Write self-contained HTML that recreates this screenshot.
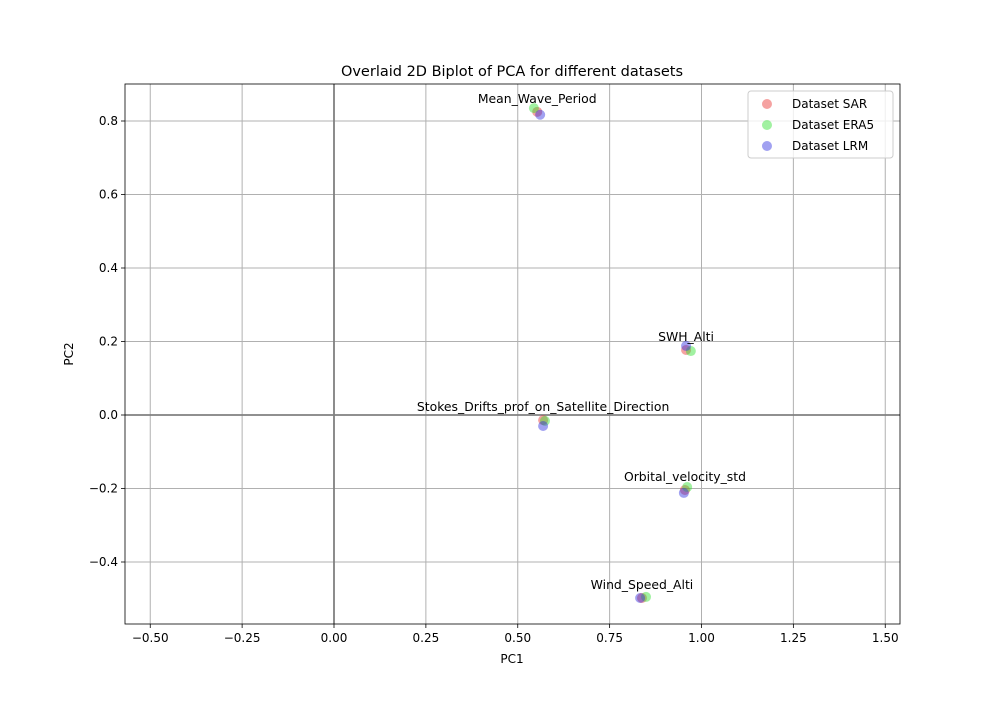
<!DOCTYPE html>
<html><head><meta charset="utf-8"><style>
body{margin:0;background:#fff;}
text{font-family:"DejaVu Sans","Liberation Sans",sans-serif;}
</style></head><body>
<svg id="chart" width="1000" height="700" xmlns="http://www.w3.org/2000/svg">
<rect width="1000" height="700" fill="#fff"/>
<g id="grid"></g><g id="marks"></g><g id="axes"></g>
</svg>
<script>
const features = ["Mean_Wave_Period","SWH_Alti","Stokes_Drifts_prof_on_Satellite_Direction","Orbital_velocity_std","Wind_Speed_Alti"];
const sarX = [0.553,0.958,0.569,0.955,0.838];
const sarY = [0.825,0.177,-0.014,-0.204,-0.498];
const era5X = [0.544,0.971,0.574,0.961,0.849];
const era5Y = [0.835,0.174,-0.016,-0.196,-0.495];
const lrmX = [0.561,0.958,0.569,0.952,0.833];
const lrmY = [0.817,0.188,-0.030,-0.212,-0.498];
const xTicks = [-0.5,-0.25,0,0.25,0.5,0.75,1.0,1.25,1.5];
const xTickLabels = ["−0.50","−0.25","0.00","0.25","0.50","0.75","1.00","1.25","1.50"];
const yTicks = [-0.4,-0.2,0,0.2,0.4,0.6,0.8];
const yTickLabels = ["−0.4","−0.2","0.0","0.2","0.4","0.6","0.8"];

const L=125,R=900,T=84,B=624;
const sx=v=>334+v*367.5, sy=v=>415-v*367.5;
const NS="http://www.w3.org/2000/svg";
function mk(tag,attrs,parent,txt){const e=document.createElementNS(NS,tag);for(const k in attrs)e.setAttribute(k,attrs[k]);if(txt!==undefined)e.textContent=txt;parent.appendChild(e);return e;}
const grid=document.getElementById('grid'),marks=document.getElementById('marks'),axes=document.getElementById('axes');
xTicks.forEach((t,i)=>{
  const g=mk('line',{x1:sx(t),x2:sx(t),y1:T,y2:B,stroke:'#b0b0b0','stroke-width':1},grid);
  
  
  mk('line',{x1:sx(t),x2:sx(t),y1:B,y2:B+4,stroke:'#000','stroke-width':0.8},axes);
  const tl=mk('text',{x:sx(t),y:B+18,'font-size':12,'text-anchor':'middle'},axes,xTickLabels[i]);
  
  
});
yTicks.forEach((t,i)=>{
  const g=mk('line',{x1:L,x2:R,y1:sy(t),y2:sy(t),stroke:'#b0b0b0','stroke-width':1},grid);
  
  
  mk('line',{x1:L-4,x2:L,y1:sy(t),y2:sy(t),stroke:'#000','stroke-width':0.8},axes);
  const tl=mk('text',{x:L-7,y:sy(t)+4,'font-size':12,'text-anchor':'end'},axes,yTickLabels[i]);
  
  
});
const zx=mk('line',{x1:sx(0),x2:sx(0),y1:T,y2:B,stroke:'#808080','stroke-width':1.8},grid);


const zy=mk('line',{x1:L,x2:R,y1:sy(0),y2:sy(0),stroke:'#808080','stroke-width':1.8},grid);


const series=[["sar",sarX,sarY,"#e8302f"],["era5",era5X,era5Y,"#2fe02f"],["lrm",lrmX,lrmY,"#2f2fe0"]];
series.forEach(([n,xs,ys,c])=>{
  xs.forEach((x,i)=>{
    const p=mk('circle',{cx:sx(x),cy:sy(ys[i]),r:5,fill:c,'fill-opacity':0.45},marks);
    
    
  });
});
features.forEach((f,i)=>{
  const t=mk('text',{x:sx(sarX[i]),y:sy(sarY[i])-9,'font-size':12.4,'text-anchor':'middle'},marks,f);
  
  
});
const fr=mk('rect',{x:L,y:T,width:R-L,height:B-T,fill:'none',stroke:'#000','stroke-width':0.8},axes);


</script>
<svg style="position:absolute;left:0;top:0" width="1000" height="700" xmlns="http://www.w3.org/2000/svg">
<text x="512" y="76" font-size="14.5" text-anchor="middle" font-family="DejaVu Sans, Liberation Sans, sans-serif">Overlaid 2D Biplot of PCA for different datasets</text>
<text x="512" y="663" font-size="12" text-anchor="middle" font-family="DejaVu Sans, Liberation Sans, sans-serif">PC1</text>
<text x="73" y="354" font-size="12" text-anchor="middle" transform="rotate(-90 73 354)" font-family="DejaVu Sans, Liberation Sans, sans-serif">PC2</text>
<g font-family="DejaVu Sans, Liberation Sans, sans-serif" font-size="12">
<rect x="748" y="91" width="145" height="67" rx="3" fill="#fff" fill-opacity="0.8" stroke="#ccc"/>
<circle cx="767" cy="104" r="5" fill="#e8302f" fill-opacity="0.45"/>
<text x="792" y="108">Dataset SAR</text>
<circle cx="767" cy="125" r="5" fill="#2fe02f" fill-opacity="0.45"/>
<text x="792" y="129">Dataset ERA5</text>
<circle cx="767" cy="146" r="5" fill="#2f2fe0" fill-opacity="0.45"/>
<text x="792" y="150">Dataset LRM</text>
</g>
</svg>
</body></html>
